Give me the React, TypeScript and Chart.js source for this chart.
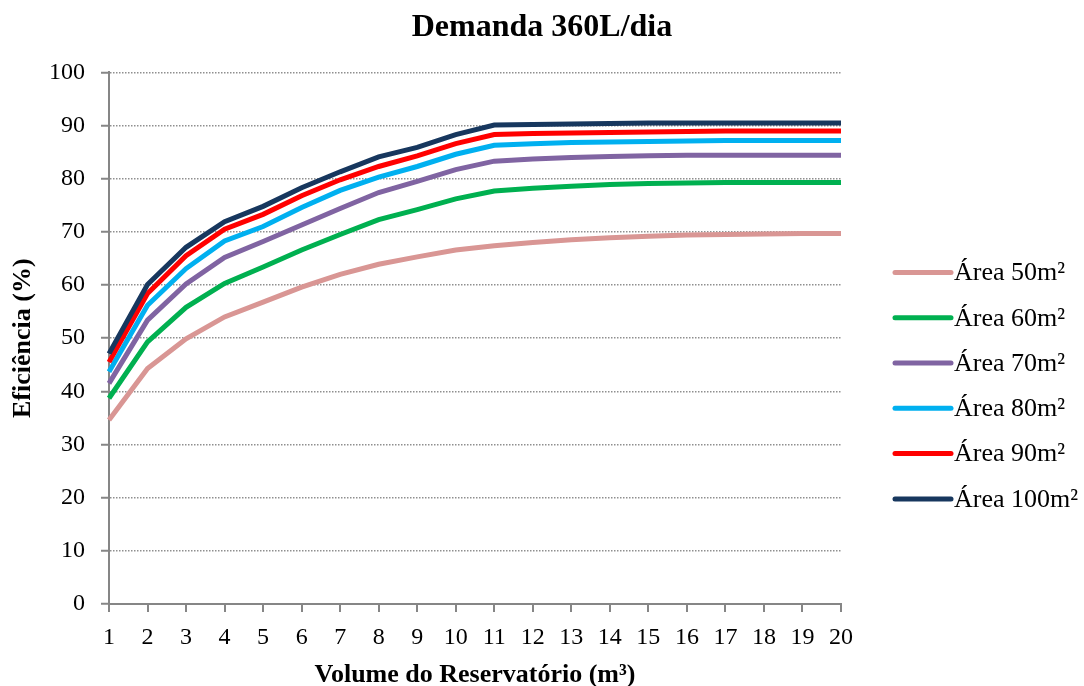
import React, { useEffect, useRef } from "react";
import { Chart, registerables } from "chart.js";

Chart.register(...registerables);

const volumes = ["1","2","3","4","5","6","7","8","9","10","11","12","13","14","15","16","17","18","19","20"];
const seriesNames = ["Área 50m²", "Área 60m²", "Área 70m²", "Área 80m²", "Área 90m²", "Área 100m²"];
const seriesColors = ["#D99694", "#00B050", "#8064A2", "#00B0F0", "#FF0000", "#17375E"];

const area50 = [34.6, 44.3, 49.9, 54.0, 56.8, 59.6, 62.0, 63.9, 65.3, 66.6, 67.4, 68.0, 68.5, 68.9, 69.2, 69.4, 69.5, 69.6, 69.7, 69.7];
const area60 = [38.7, 49.3, 55.8, 60.3, 63.4, 66.6, 69.5, 72.3, 74.2, 76.2, 77.7, 78.2, 78.6, 78.9, 79.1, 79.2, 79.3, 79.3, 79.3, 79.3];
const area70 = [41.5, 53.4, 60.2, 65.2, 68.2, 71.3, 74.4, 77.4, 79.5, 81.7, 83.3, 83.7, 84.0, 84.2, 84.3, 84.4, 84.4, 84.4, 84.4, 84.4];
const area80 = [43.7, 56.2, 63.1, 68.3, 71.0, 74.6, 77.8, 80.3, 82.3, 84.6, 86.3, 86.6, 86.8, 86.9, 87.0, 87.1, 87.2, 87.2, 87.2, 87.2];
const area90 = [45.5, 58.4, 65.5, 70.5, 73.3, 76.8, 79.8, 82.3, 84.3, 86.6, 88.3, 88.5, 88.6, 88.7, 88.8, 88.9, 89.0, 89.0, 89.0, 89.0];
const area100 = [47.1, 60.1, 67.1, 71.9, 74.8, 78.3, 81.3, 84.1, 85.9, 88.3, 90.1, 90.2, 90.3, 90.4, 90.5, 90.5, 90.5, 90.5, 90.5, 90.5];
const allSeries = [area50, area60, area70, area80, area90, area100];

const FONT = "'Liberation Serif', 'Times New Roman', serif";
const AXIS_GRAY = "#868686";

const legendPlugin = {
  id: "rightLegend",
  afterDraw(chart: any) {
    const ctx = chart.ctx;
    const area = chart.chartArea;
    const x0 = area.right + 54;
    const x1 = x0 + 56;
    const yStart = area.top + 200;
    const step = 45.3;
    ctx.save();
    chart.data.datasets.forEach((ds: any, i: number) => {
      const y = yStart + i * step;
      ctx.beginPath();
      ctx.lineCap = "round";
      ctx.lineWidth = 5;
      ctx.strokeStyle = ds.borderColor;
      ctx.moveTo(x0, y);
      ctx.lineTo(x1, y);
      ctx.stroke();
      ctx.fillStyle = "#000";
      ctx.font = `26px ${FONT}`;
      ctx.textBaseline = "middle";
      ctx.textAlign = "left";
      ctx.fillText(ds.label, x1 + 3, y + 1);
    });
    ctx.restore();
  },
};

export default function App() {
  const ref = useRef<HTMLCanvasElement | null>(null);
  useEffect(() => {
    document.body.style.margin = "0";
    const canvas = ref.current;
    if (!canvas) return;
    const chart = new Chart(canvas, {
      type: "line",
      data: {
        labels: volumes,
        datasets: allSeries.map((vals, i) => ({
          label: seriesNames[i],
          data: vals,
          borderColor: seriesColors[i],
          backgroundColor: seriesColors[i],
          borderWidth: 5,
          pointRadius: 0,
          tension: 0,
          fill: false,
          order: allSeries.length - i,
        })),
      },
      options: {
        responsive: false,
        animation: false,
        layout: { padding: { left: 0, right: 0, top: 5, bottom: 0 } },
        plugins: {
          legend: { display: false },
          tooltip: { enabled: false },
          title: {
            display: true,
            text: "Demanda 360L/dia",
            color: "#000",
            font: { family: FONT, size: 32, weight: "bold" },
            padding: { top: 4, bottom: 25 },
          },
        },
        scales: {
          x: {
            type: "category",
            offset: false,
            grid: {
              drawOnChartArea: false,
              drawTicks: true,
              tickLength: 8,
              color: AXIS_GRAY,
              lineWidth: 2,
            },
            border: { display: true, color: AXIS_GRAY, width: 2 },
            ticks: {
              color: "#000",
              font: { family: FONT, size: 24 },
              padding: 11,
              maxRotation: 0,
              autoSkip: false,
            },
            title: {
              display: true,
              text: "Volume do Reservatório (m³)",
              color: "#000",
              font: { family: FONT, size: 26, weight: "bold", lineHeight: 0.8 },
              padding: { top: 0, bottom: 0 },
            },
            afterFit(scale: any) {
              scale.height = 82;
            },
          },
          y: {
            min: 0,
            max: 100,
            grid: {
              drawOnChartArea: true,
              drawTicks: true,
              tickLength: 8,
              color: "#8f8f8f",
              lineWidth: 1.5,
              tickColor: AXIS_GRAY,
              tickWidth: 2,
            },
            border: { display: true, color: AXIS_GRAY, width: 2, dash: [1.5, 1.5] },
            ticks: {
              stepSize: 10,
              color: "#000",
              font: { family: FONT, size: 24 },
              padding: 16,
            },
            title: {
              display: true,
              text: "Eficiência (%)",
              color: "#000",
              font: { family: FONT, size: 26, weight: "bold" },
              padding: { top: 8, bottom: 0 },
            },
            afterFit(scale: any) {
              scale.width = 109;
            },
          },
          legendSpace: {
            type: "linear",
            position: "right",
            display: true,
            grid: { drawOnChartArea: false, drawTicks: false },
            border: { display: false },
            ticks: { display: false },
            afterFit(scale: any) {
              scale.width = 243;
            },
          },
        },
      },
      plugins: [legendPlugin],
    });
    return () => chart.destroy();
  }, []);
  return (
    <div style={{ width: 1084, height: 686 }}>
      <canvas ref={ref} width={1084} height={686} style={{ display: "block" }} />
    </div>
  );
}
